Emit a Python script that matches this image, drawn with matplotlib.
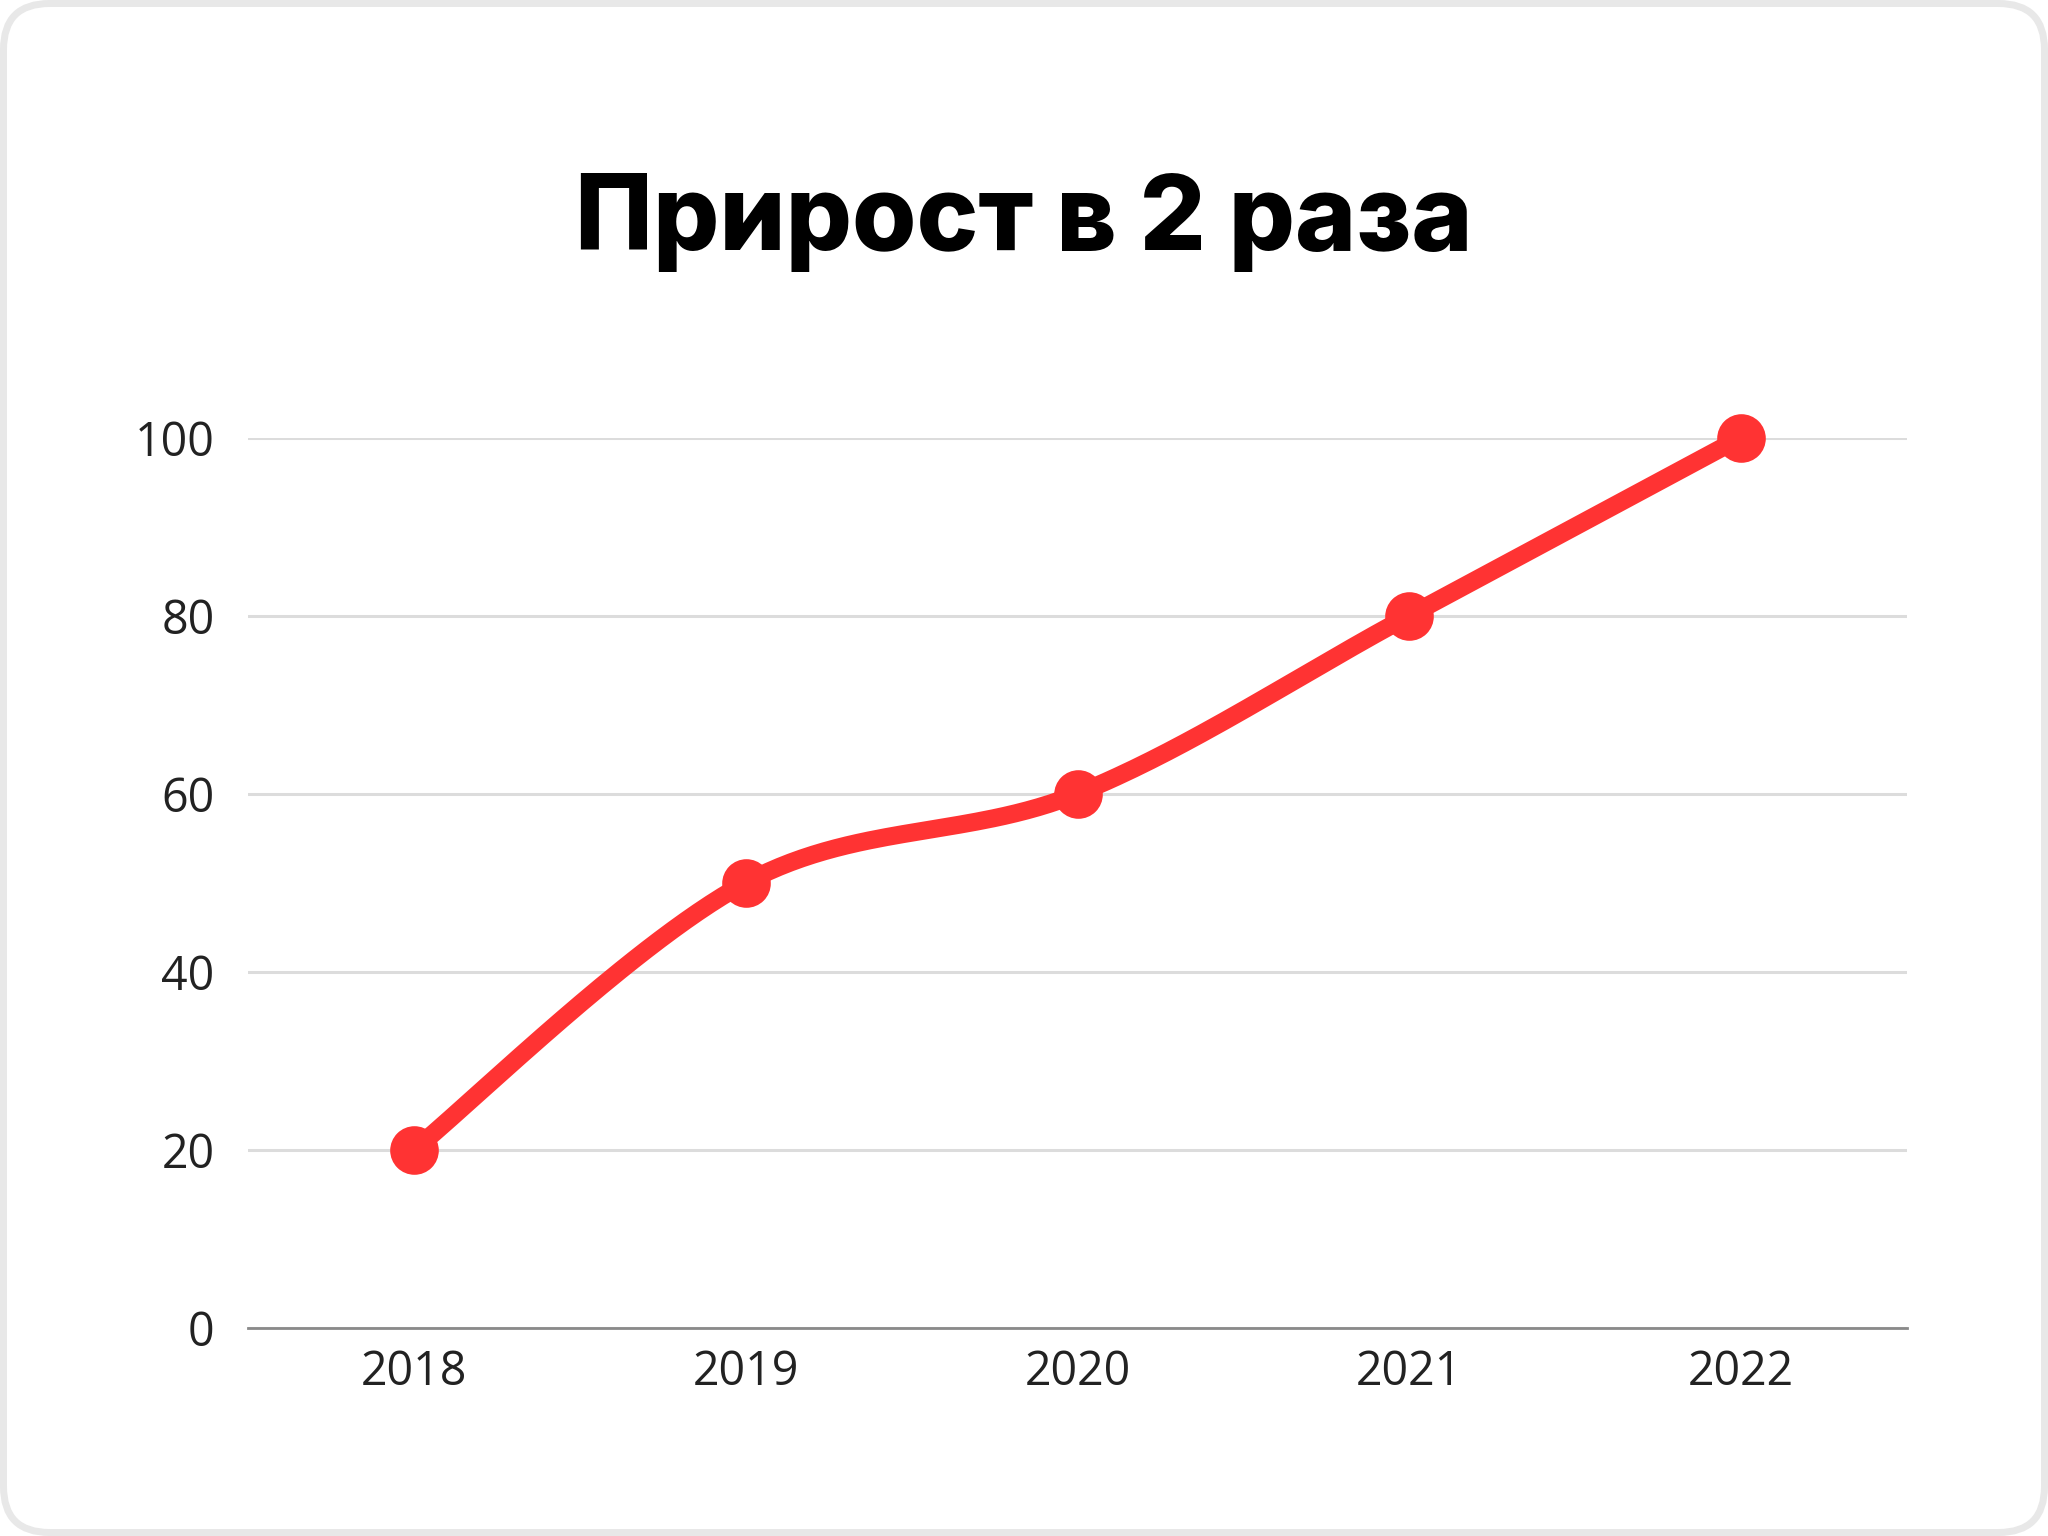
import numpy as np
import matplotlib
matplotlib.use("Agg")
import matplotlib.pyplot as plt
from matplotlib.patches import FancyBboxPatch
from matplotlib.transforms import Affine2D

title = "Прирост в 2 раза"
years = ["2018", "2019", "2020", "2021", "2022"]
values = [20, 50, 60, 80, 100]
yticks = [0, 20, 40, 60, 80, 100]

W, H, DPI = 2048, 1536, 100
fig = plt.figure(figsize=(W / DPI, H / DPI), dpi=DPI)
fig.patch.set_facecolor("white")

# rounded card border in pixel units
pix = Affine2D().scale(1 / W, 1 / H) + fig.transFigure
card = FancyBboxPatch((3.5, 3.5), W - 7, H - 7,
                      boxstyle="round,pad=0,rounding_size=46",
                      transform=pix, facecolor="white", edgecolor="#e8e8e8",
                      linewidth=7 * 72 / DPI, zorder=-10)
fig.patches.append(card)

fig.text(0.5, 1 - 250 / H, title, ha="center", va="baseline",
         fontsize=75, fontweight="heavy", family=["Inter", "DejaVu Sans"],
         color="black", zorder=5)

ax = fig.add_axes([248 / W, 208 / H, (1907 - 248) / W, (1328 - 437.5) / H])
ax.set_zorder(2)
ax.set_facecolor("none")

x = np.arange(len(values))
y = np.array(values, dtype=float)

# smooth curve (cardinal spline through data points)
def smooth(xp, yp, k=1 / 6, n=60):
    pts = np.column_stack([xp, yp])
    out = []
    m = len(pts)
    for i in range(m - 1):
        p0 = pts[max(i - 1, 0)]
        p1 = pts[i]
        p2 = pts[i + 1]
        p3 = pts[min(i + 2, m - 1)]
        c1 = p1 + (p2 - p0) * k
        c2 = p2 - (p3 - p1) * k
        t = np.linspace(0, 1, n)[:, None]
        seg = ((1 - t) ** 3) * p1 + 3 * ((1 - t) ** 2) * t * c1 + 3 * (1 - t) * t ** 2 * c2 + t ** 3 * p2
        out.append(seg if i == 0 else seg[1:])
    s = np.vstack(out)
    return s[:, 0], s[:, 1]

sx, sy = smooth(x, y)
ax.plot(sx, sy, color="#ff3333", lw=13, solid_capstyle="round", zorder=3, clip_on=False)
ax.plot(x, y, "o", color="#ff3333", markersize=35, markeredgewidth=0, zorder=4, clip_on=False)

ax.set_xlim(-0.5, len(values) - 0.5)
ax.set_ylim(0, 100)
ax.set_yticks(yticks)
ax.set_yticklabels([str(v) for v in yticks])
ax.set_xticks(x)
ax.set_xticklabels(years)

for s in ["top", "right", "left"]:
    ax.spines[s].set_visible(False)
ax.spines["bottom"].set_color("#8a8a8a")
ax.spines["bottom"].set_linewidth(2)
ax.spines["bottom"].set_zorder(2)

ax.grid(axis="y", color="#dcdcdc", linewidth=2.2, zorder=1)
ax.set_axisbelow(True)
ax.tick_params(axis="both", length=0, labelsize=33.5, labelcolor="#222222")
ax.tick_params(axis="y", pad=24)
ax.tick_params(axis="x", pad=15)
for lab in ax.get_xticklabels() + ax.get_yticklabels():
    lab.set_family(["Open Sans", "DejaVu Sans"])

fig.savefig("out.png", dpi=DPI)
